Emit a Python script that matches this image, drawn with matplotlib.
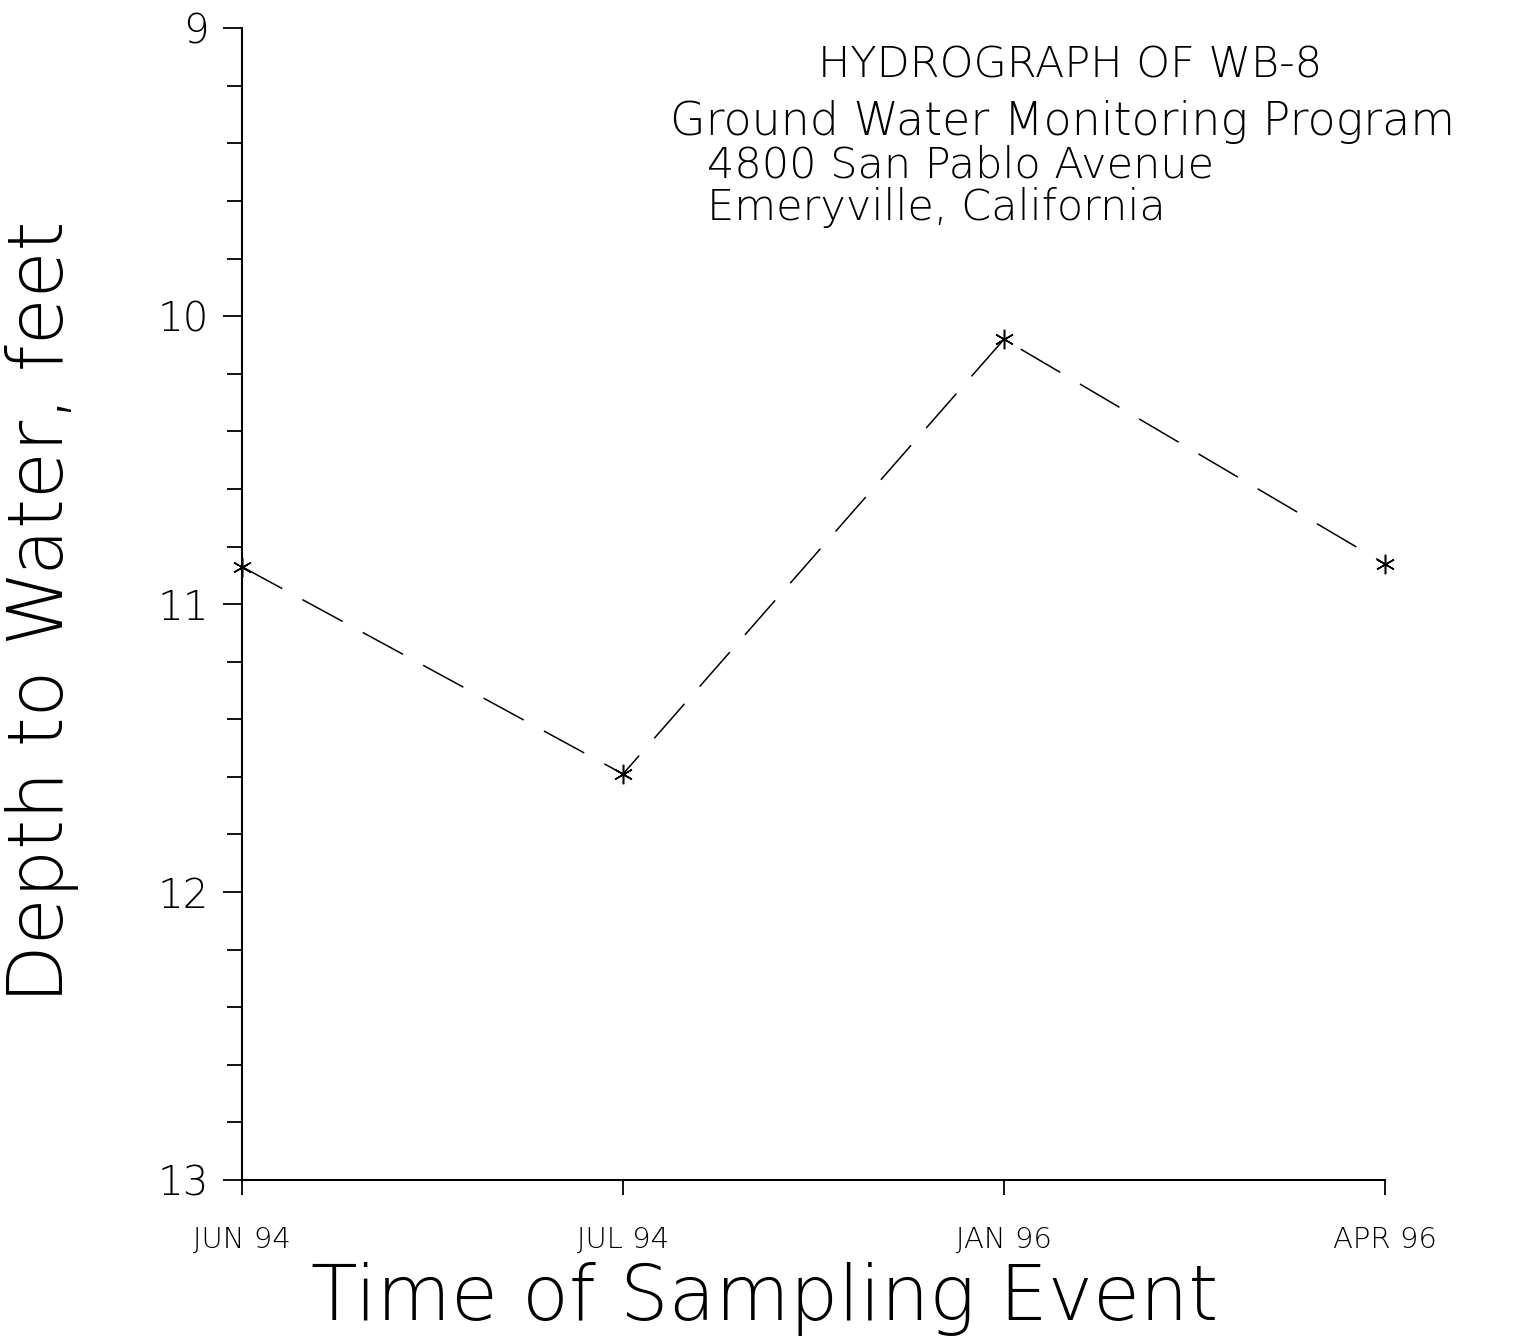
import matplotlib.pyplot as plt
from matplotlib.ticker import MultipleLocator

# Sampling events and depth to water readings (feet)
events = ["JUN 94", "JUL 94", "JAN 96", "APR 96"]
depth = [10.87, 11.59, 10.08, 10.86]

title_lines = [
    "HYDROGRAPH OF WB-8",
    "Ground Water Monitoring Program",
    "4800 San Pablo Avenue",
    "Emeryville, California",
]

plt.rcParams['font.family'] = ['DejaVu Sans']

fig = plt.figure(figsize=(15.18, 13.36), dpi=100)
ax = fig.add_axes([0.1594, 0.1168, 0.753, 0.862])

x = list(range(len(events)))
ax.plot(x, depth, color='black', lw=1.1, ls=(0, (30, 15)),
        marker=(6, 2, 0), markersize=14, markeredgewidth=1.1, clip_on=False)

ax.set_xlim(0, len(events) - 1)
ax.set_ylim(13, 9)
ax.set_xticks(x)
ax.set_xticklabels(events, fontsize=21, fontweight='light')
ax.yaxis.set_minor_locator(MultipleLocator(0.2))
ax.set_yticks([9, 10, 11, 12, 13])
ax.set_yticklabels(["9", "10", "11", "12", "13"], fontsize=29, fontweight='light')

ax.spines['top'].set_visible(False)
ax.spines['right'].set_visible(False)
for s in ['left', 'bottom']:
    ax.spines[s].set_linewidth(1.5)
ax.tick_params(axis='y', which='major', length=14, width=1.3, pad=10, direction='out')
ax.tick_params(axis='y', which='minor', length=11, width=1.3, direction='out')
ax.tick_params(axis='x', length=11, width=1.3, pad=22, direction='out')

# title block, upper right
fig.text(1070 / 1518, 1 - 78 / 1336, title_lines[0], fontsize=31,
         fontweight='light', ha='center', va='baseline')
fig.text(1062 / 1518, 1 - 135 / 1336, title_lines[1], fontsize=33,
         fontweight='light', ha='center', va='baseline')
fig.text(707 / 1518, 1 - 178 / 1336, title_lines[2], fontsize=31,
         fontweight='light', ha='left', va='baseline')
fig.text(707 / 1518, 1 - 220 / 1336, title_lines[3], fontsize=31,
         fontweight='light', ha='left', va='baseline')

fig.text(42 / 1518, 0.542, "Depth to Water, feet", fontsize=55,
         fontweight='light', rotation=90, ha='center', va='center')
fig.text(765 / 1518, 1 - 1320 / 1336, "Time of Sampling Event", fontsize=55,
         fontweight='light', ha='center', va='baseline')

fig.savefig("out.png", dpi=100)
